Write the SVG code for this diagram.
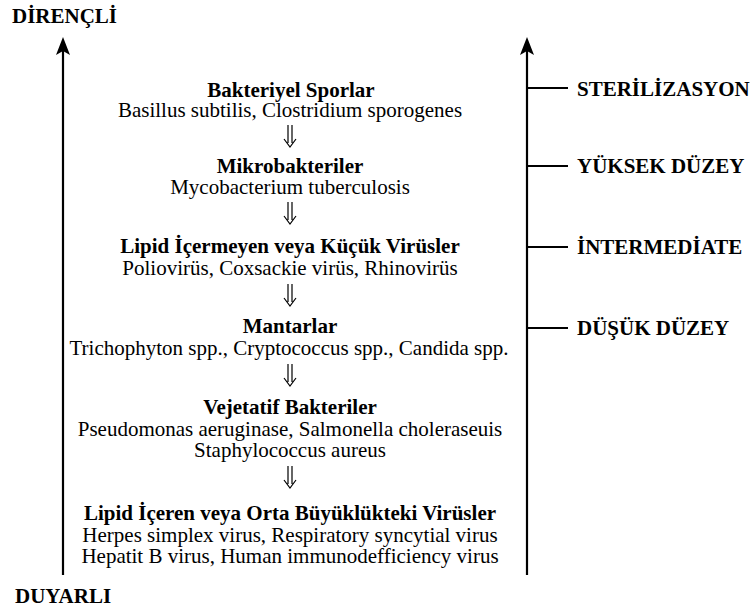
<svg xmlns="http://www.w3.org/2000/svg" width="752" height="610" viewBox="0 0 752 610">
<style>
.ax{stroke:#000;stroke-width:2.2;fill:none}
.tick{stroke:#000;stroke-width:2.2}
.da{stroke:#000;stroke-width:1.2;fill:none}
.head{fill:#000}
</style>
<rect width="752" height="610" fill="#fff"/>
<g id="axes">
<line class="ax" x1="63" y1="575" x2="63" y2="50"/>
<path class="head" d="M63,37 L70,55 L63,51 L56,55 Z"/>
<line class="ax" x1="527" y1="575" x2="527" y2="50"/>
<path class="head" d="M527,37 L534,55 L527,51 L520,55 Z"/>
<text font-family="Liberation Serif" font-size="21" font-weight="bold" x="12" y="23">DİRENÇLİ</text>
<text font-family="Liberation Serif" font-size="21" font-weight="bold" x="15" y="603">DUYARLI</text>
</g>
<g id="levels">
<line class="tick" x1="527" y1="88" x2="568" y2="88"/>
<line class="tick" x1="527" y1="166" x2="568" y2="166"/>
<line class="tick" x1="527" y1="247" x2="568" y2="247"/>
<line class="tick" x1="527" y1="328" x2="568" y2="328"/>
<text font-family="Liberation Serif" font-size="21" font-weight="bold" x="577" y="96">STERİLİZASYON</text>
<text font-family="Liberation Serif" font-size="21" font-weight="bold" x="577" y="173">YÜKSEK DÜZEY</text>
<text font-family="Liberation Serif" font-size="21" font-weight="bold" x="577" y="254">İNTERMEDİATE</text>
<text font-family="Liberation Serif" font-size="21" font-weight="bold" x="577" y="335">DÜŞÜK DÜZEY</text>
</g>
<g id="n1">
<text font-family="Liberation Serif" font-size="21" font-weight="bold" text-anchor="middle" x="291" y="97">Bakteriyel Sporlar</text>
<text font-family="Liberation Serif" font-size="21" text-anchor="middle" x="290" y="117">Basillus subtilis, Clostridium sporogenes</text>
</g>
<g id="n2">
<text font-family="Liberation Serif" font-size="21" font-weight="bold" text-anchor="middle" x="290" y="173">Mikrobakteriler</text>
<text font-family="Liberation Serif" font-size="21" text-anchor="middle" x="290" y="194">Mycobacterium tuberculosis</text>
</g>
<g id="n3">
<text font-family="Liberation Serif" font-size="21" font-weight="bold" text-anchor="middle" x="290" y="253">Lipid İçermeyen veya Küçük Virüsler</text>
<text font-family="Liberation Serif" font-size="21" text-anchor="middle" x="290" y="275">Poliovirüs, Coxsackie virüs, Rhinovirüs</text>
</g>
<g id="n4">
<text font-family="Liberation Serif" font-size="21" font-weight="bold" text-anchor="middle" x="290" y="333">Mantarlar</text>
<text font-family="Liberation Serif" font-size="21" text-anchor="middle" x="289" y="355">Trichophyton spp., Cryptococcus spp., Candida spp.</text>
</g>
<g id="n5">
<text font-family="Liberation Serif" font-size="21" font-weight="bold" text-anchor="middle" x="290" y="414">Vejetatif Bakteriler</text>
<text font-family="Liberation Serif" font-size="21" text-anchor="middle" x="290" y="436">Pseudomonas aeruginase, Salmonella choleraseuis</text>
<text font-family="Liberation Serif" font-size="21" text-anchor="middle" x="290" y="457">Staphylococcus aureus</text>
</g>
<g id="n6">
<text font-family="Liberation Serif" font-size="21" font-weight="bold" text-anchor="middle" x="290" y="520">Lipid İçeren veya Orta Büyüklükteki Virüsler</text>
<text font-family="Liberation Serif" font-size="21" text-anchor="middle" x="290" y="542">Herpes simplex virus, Respiratory syncytial virus</text>
<text font-family="Liberation Serif" font-size="21" text-anchor="middle" x="290" y="563">Hepatit B virus, Human immunodefficiency virus</text>
</g>
<g id="connectors">
<path class="da" d="M288,125 V143 M292,125 V143 M284,139 L290,147 L296,139"/>
<path class="da" d="M288,202 V220 M292,202 V220 M284,216 L290,224 L296,216"/>
<path class="da" d="M288,284 V302 M292,284 V302 M284,298 L290,306 L296,298"/>
<path class="da" d="M288,364 V382 M292,364 V382 M284,378 L290,386 L296,378"/>
<path class="da" d="M288,466 V484 M292,466 V484 M284,480 L290,488 L296,480"/>
</g>
</svg>
